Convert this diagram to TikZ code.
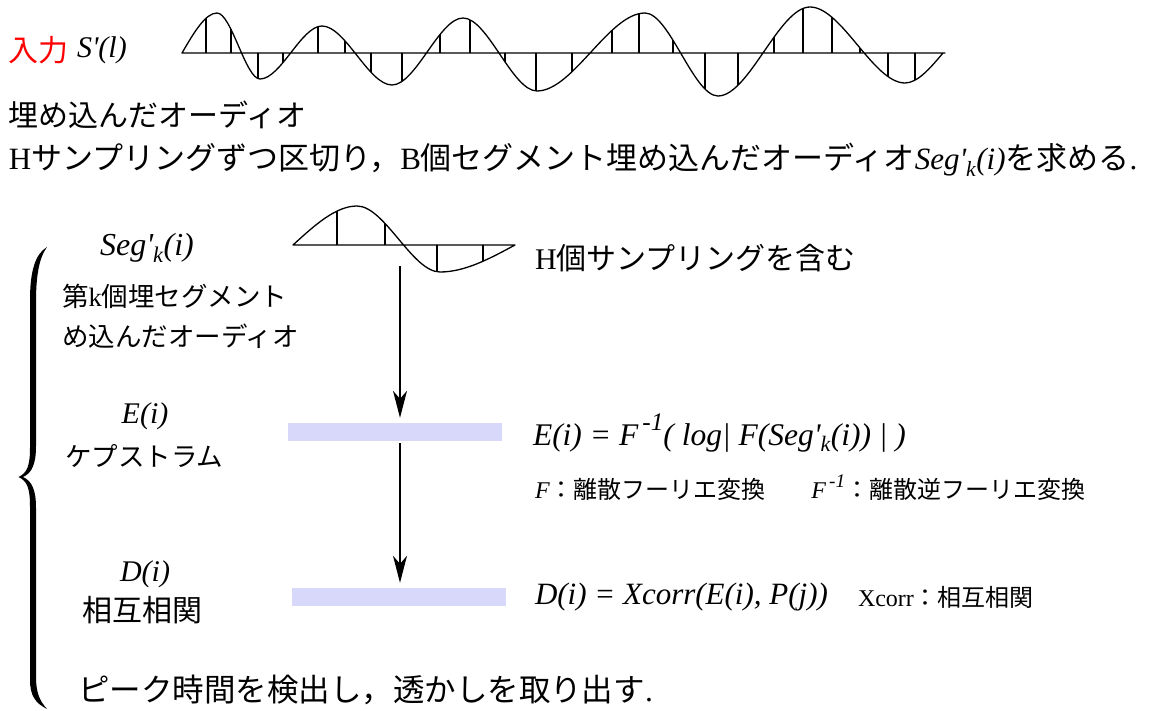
\documentclass[tikz,border=0pt]{standalone}
\usepackage{fontspec}
\setmainfont{Liberation Serif}
\newfontfamily\jp{Noto Sans CJK JP}
\usetikzlibrary{arrows.meta}
\newcommand\fsz[1]{\fontsize{#1}{#1}\selectfont}
\newcommand\itx[1]{{\rmfamily\itshape #1}}
\newcommand\ltn[1]{{\rmfamily\upshape #1}}
\newcommand\sq{\textquotesingle}
\newcommand\supm{\raisebox{0.45em}{\fontsize{0.8em}{0.8em}\selectfont\,-\textit{1}}}
\definecolor{barc}{RGB}{216,216,250}
\newcommand\topw{(182,53) .. controls (193.67,33) and (205.33,13) .. (217,13)
 .. controls +(14.33,0) and +(-14.33,0) .. (260,79)
 .. controls +(20.67,0) and +(-20.67,0) .. (322,26)
 .. controls +(23.33,0) and +(-23.33,0) .. (392,85)
 .. controls +(23.67,0) and +(-23.67,0) .. (463,18)
 .. controls +(24.67,0) and +(-24.67,0) .. (537,91)
 .. controls +(36,0) and +(-36,0) .. (645,13)
 .. controls +(24.33,0) and +(-24.33,0) .. (718,96)
 .. controls +(30.67,0) and +(-30.67,0) .. (810,7)
 .. controls +(31.67,0) and +(-31.67,0) .. (905,83)
 .. controls (917.67,83) and (930.33,68) .. (943,53) -- (945,53) -- cycle}
\newcommand\segw{(293,245) .. controls (314.33,225.5) and (335.67,206) .. (357,206)
 .. controls +(27.67,0) and +(-27.67,0) .. (440,272)
 .. controls (465,272) and (490,258.5) .. (515,245) -- cycle}
\begin{document}
\begin{tikzpicture}[x=1pt,y=-1pt,
  lbl/.style={inner sep=0pt, outer sep=0pt, anchor=west},
  jpa/.style={lbl, font=\jp\fsz{30}},
  jpb/.style={lbl, font=\jp\fsz{26.5}},
  jps/.style={lbl, font=\jp\fsz{24}},
  mth/.style={inner sep=0pt, outer sep=0pt, font=\rmfamily\itshape\fsz{30}},
  wave/.style={line width=1.3pt, line join=round},
  stem/.style={line width=1.1pt},
  bar/.style={fill=barc, draw=none, minimum width=214pt, minimum height=18pt, inner sep=0pt},
  arr/.style={line width=1.3pt, -{Stealth[length=27pt,width=14pt,inset=8pt]}}
]
\useasboundingbox (0,0) rectangle (1157,711);
\fill[white] (0,0) rectangle (1157,711);

% top line
\node[jpa, red] (in) at (9,50) {入力};
\node[mth, anchor=west] (sl) at ([xshift=8pt]in.east) {S\sq(l)};

% top waveform
\draw[wave] \topw;
\begin{scope}
  \clip \topw;
  \foreach \x in {206,231,258,283,318,345,371,402,440,470,505,536,572,612,639,673,705,738,774,803,832,860,888,915}
    \draw[stem] (\x,0) -- (\x,110);
\end{scope}

\node[jpa] (l1) at (9,115) {埋め込んだオーディオ};
\node[lbl, font=\jp\fsz{31}] (l2) at (9,160) {\ltn{H}サンプリングずつ区切り，\ltn{B}個セグメント埋め込んだオーディオ\itx{Seg\sq\textsubscript{k}(i)}を求める\ltn{.}};

% segment waveform
\draw[wave] \segw;
\begin{scope}
  \clip \segw;
  \foreach \x in {337,385,437,483}
    \draw[stem] (\x,190) -- (\x,290);
\end{scope}
\node[jpa] (hk) at (535,258) {\ltn{H}個サンプリングを含む};

% left column
\node[mth, font=\rmfamily\itshape\fsz{32}] (seg) at (147,248) {Seg\sq\textsubscript{k}(i)};
\node[jpb] (c1) at (62,296) {第\ltn{k}個埋セグメント};
\node[jpb] (c2) at (62,336) {め込んだオーディオ};
\node[mth] (ei) at (145,416) {E(i)};
\node[jpb] (cep) at (65,456) {ケプストラム};
\node[mth] (di) at (145,574) {D(i)};
\node[jpa] (xc) at (82,610) {相互相関};
\node[lbl, font=\jp\fsz{31.5}] (pk) at (78,690) {ピーク時間を検出し，透かしを取り出す\ltn{.}};

% brace
\fill (47,247) .. controls (35,254) and (30,272) .. (30,300) -- (30,448)
  .. controls (30,466) and (27,473) .. (18.5,477)
  .. controls (27,481) and (30,488) .. (30,506) -- (30,680)
  .. controls (30,695) and (35,703) .. (47,709)
  .. controls (39,700) and (36,692) .. (36,676) -- (36,508)
  .. controls (36,490) and (32,481) .. (23,477)
  .. controls (32,473) and (36,464) .. (36,446) -- (36,302)
  .. controls (36,276) and (39,258) .. (47,247) -- cycle;

% bars and arrows
\node[bar] (b1) at (395,432) {};
\node[bar] (b2) at (399,597) {};
\coordinate (a1) at (400,266);
\draw[arr, shorten >=5pt] (a1) -- (a1 |- b1.north);
\draw[arr, shorten <=2pt, shorten >=5pt] (a1 |- b1.south) -- (a1 |- b2.north);

% equations
\node[mth, anchor=west, font=\rmfamily\itshape\fsz{31.5}] (eqe) at (533,433) {E(i) = F\supm( log\textbar{} F(Seg\sq\textsubscript{k}(i)) \textbar{} )};
\node[jps] (fdef) at (535,488) {\itx{F}：離散フーリエ変換\hspace{1.9em}\itx{F\supm}：離散逆フーリエ変換};
\node[mth, anchor=west, font=\rmfamily\itshape\fsz{31}] (eqd) at (535,597) {D(i) = Xcorr(E(i), P(j))};
\node[jps] (xdef) at (858,597) {\ltn{Xcorr}：相互相関};
\end{tikzpicture}
\end{document}
